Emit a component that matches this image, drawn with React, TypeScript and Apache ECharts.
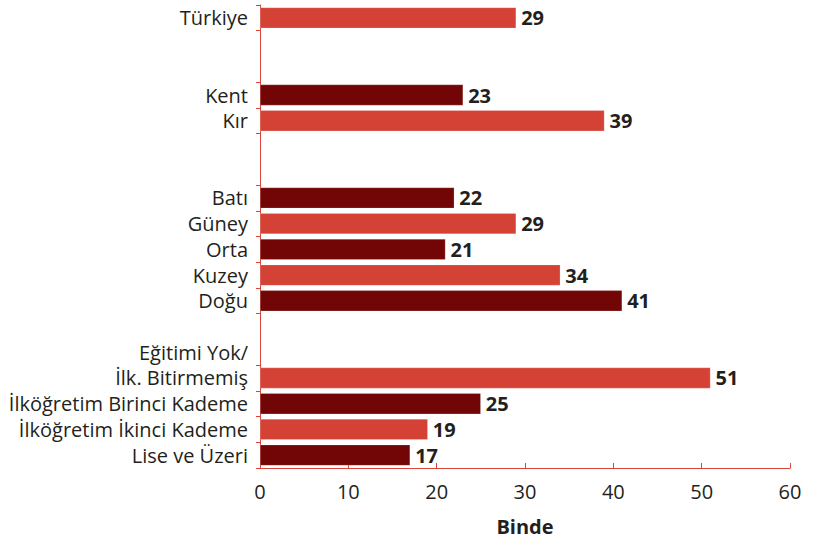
import React, { useEffect, useRef } from "react";
import * as echarts from "echarts";

const categories = [
  "Türkiye", "", "", "Kent", "Kır", "", "",
  "Batı", "Güney", "Orta", "Kuzey", "Doğu", "", "",
  "Eğitimi Yok/\nİlk. Bitirmemiş", "İlköğretim Birinci Kademe", "İlköğretim İkinci Kademe", "Lise ve Üzeri",
];
const values: (number | null)[] = [
  29, null, null, 23, 39, null, null,
  22, 29, 21, 34, 41, null, null,
  51, 25, 19, 17,
];
const barTone: string[] = [
  "light", "", "", "dark", "light", "", "",
  "dark", "light", "dark", "light", "dark", "", "",
  "light", "dark", "light", "dark",
];
const hiddenTicks = [2, 6, 13];
const xTicks = { min: 0, max: 60, interval: 10 };

const LIGHT = "#D44236";
const DARK = "#720606";
const AXIS = "#D9453A";
const TEXT = "#231F20";
const FONT = "'Open Sans', 'Noto Sans', sans-serif";

export default function App() {
  const ref = useRef<HTMLDivElement>(null);
  useEffect(() => {
    document.body.style.margin = "0";
    if (!ref.current) return;
    const chart = echarts.init(ref.current, undefined, { renderer: "svg" });
    chart.setOption({
      animation: false,
      textStyle: { fontFamily: FONT },
      grid: { left: 260, right: 38, top: 5, bottom: 70, containLabel: false },
      xAxis: {
        type: "value",
        min: xTicks.min,
        max: xTicks.max,
        interval: xTicks.interval,
        name: "Binde",
        nameLocation: "middle",
        nameGap: 48,
        nameTextStyle: { fontFamily: FONT, fontSize: 20, fontWeight: "bold", color: TEXT },
        axisLine: { show: true, lineStyle: { color: AXIS, width: 1 } },
        axisTick: { show: true, inside: true, length: 5, lineStyle: { color: AXIS } },
        axisLabel: { fontFamily: FONT, fontSize: 20, color: TEXT, margin: 13 },
        splitLine: { show: false },
      },
      yAxis: {
        type: "category",
        inverse: true,
        data: categories,
        axisLine: { show: true, lineStyle: { color: AXIS, width: 1 } },
        axisTick: {
          show: true,
          length: 4,
          lineStyle: { color: AXIS },
          interval: (index: number) => !hiddenTicks.includes(index),
        },
        axisLabel: {
          interval: 0,
          fontFamily: FONT,
          fontSize: 20,
          color: TEXT,
          margin: 12,
          lineHeight: 25.5,
          formatter: (v: string) => (v.includes("\n") ? v + "\n\u00a0" : v),
        },
      },
      series: [
        {
          type: "bar",
          barWidth: 21,
          data: values.map((v, i) => ({
            value: v,
            itemStyle: {
              color: barTone[i] === "dark" ? DARK : LIGHT,
              borderColor: "rgba(255,255,255,0.35)",
              borderWidth: 0.6,
            },
          })),
          label: {
            show: true,
            position: "right",
            distance: 5,
            fontFamily: FONT,
            fontSize: 20,
            fontWeight: "bold",
            color: TEXT,
          },
        },
      ],
    });
    return () => chart.dispose();
  }, []);
  return <div ref={ref} style={{ width: 828, height: 541 }} />;
}
